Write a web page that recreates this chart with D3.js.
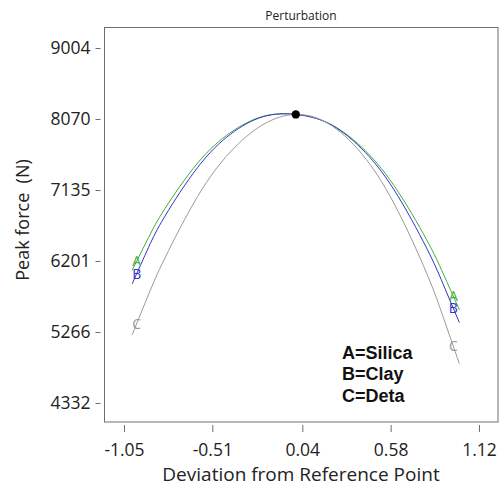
<!DOCTYPE html>
<html>
<head>
<meta charset="utf-8">
<script src="https://cdn.jsdelivr.net/npm/d3@7"></script>
<style>
  html, body { margin: 0; padding: 0; background: #fff; }
  svg { display: block; }
  text { font-family: "Open Sans", "Noto Sans", sans-serif; }
</style>
</head>
<body>
<svg id="chart" width="499" height="487"></svg>
<script>
// ---- data ----
const deviation = [-1, -0.9, -0.8, -0.6, -0.4, -0.2, 0, 0.2, 0.4, 0.6, 0.8, 0.9, 1];
const seriesA = [6080, 6510, 6890, 7490, 7890, 8104, 8130, 8015, 7705, 7195, 6480, 6040, 5560];
const seriesB = [5900, 6380, 6790, 7432, 7868, 8100, 8130, 8012, 7685, 7140, 6370, 5900, 5390];
const seriesC = [5230, 5760, 6240, 7050, 7636, 7996, 8130, 8008, 7620, 6960, 6040, 5470, 4850];
const seriesNames = ["A", "B", "C"];
const legendLines = ["A=Silica", "B=Clay", "C=Deta"];
const referencePoint = [0, 8130];
const xTickValues = [-1.05, -0.51, 0.04, 0.58, 1.12];
const xTickLabels = ["-1.05", "-0.51", "0.04", "0.58", "1.12"];
const yTickValues = [4332, 5266, 6201, 7135, 8070, 9004];
const yTickLabels = ["4332", "5266", "6201", "7135", "8070", "9004"];

const colors = { A: "#3fae3f", B: "#3434c8", C: "#9a9a9a" };

const svg = d3.select("#chart");
const frame = { left: 104.5, top: 27.5, right: 498, bottom: 422 };

const x = d3.scaleLinear().domain([-1.05, 1.12]).range([124, 479]);
const y = d3.scaleLinear().domain([4332, 9004]).range([403, 48]);

// title
svg.append("text")
  .attr("x", 301).attr("y", 20)
  .attr("text-anchor", "middle")
  .attr("font-size", 12)
  .attr("fill", "#222")
  .text("Perturbation");

// frame
svg.append("rect")
  .attr("x", frame.left).attr("y", frame.top)
  .attr("width", frame.right - frame.left)
  .attr("height", frame.bottom - frame.top)
  .attr("fill", "none")
  .attr("stroke", "#6e6e6e")
  .attr("stroke-width", 1);

// y axis
const yAxis = d3.axisLeft(y)
  .tickValues(yTickValues)
  .tickFormat((d, i) => yTickLabels[i])
  .tickSize(5)
  .tickPadding(5);
const gy = svg.append("g").attr("transform", "translate(100.5,0)").call(yAxis);
gy.select(".domain").remove();
gy.selectAll(".tick line").attr("stroke", "#6e6e6e");
gy.selectAll(".tick text")
  .attr("font-size", 17.5)
  .attr("fill", "#222")
  .style("font-family", '"Open Sans", sans-serif');

// x axis
const xAxis = d3.axisBottom(x)
  .tickValues(xTickValues)
  .tickFormat((d, i) => xTickLabels[i])
  .tickSize(7)
  .tickPadding(12);
const gx = svg.append("g").attr("transform", "translate(0,425)").call(xAxis);
gx.select(".domain").remove();
gx.selectAll(".tick line").attr("stroke", "#6e6e6e");
gx.selectAll(".tick text")
  .attr("font-size", 17.5)
  .attr("fill", "#222")
  .style("font-family", '"Open Sans", sans-serif');

// axis titles
svg.append("text")
  .attr("x", 301).attr("y", 481)
  .attr("text-anchor", "middle")
  .attr("font-size", 19)
  .attr("fill", "#222")
  .text("Deviation from Reference Point");

svg.append("text")
  .attr("transform", "translate(29,220) rotate(-90)")
  .attr("text-anchor", "middle")
  .attr("font-size", 18)
  .attr("fill", "#222")
  .style("white-space", "pre")
  .text("Peak force  (N)");

// curves
const line = d3.line()
  .x((d, i) => x(deviation[i]))
  .y(d => y(d))
  .curve(d3.curveNatural);

const allSeries = [seriesA, seriesB, seriesC];
const paths = allSeries.map((s, k) =>
  svg.append("path")
    .datum(s)
    .attr("d", line)
    .attr("fill", "none")
    .attr("stroke", colors[seriesNames[k]])
    .attr("stroke-width", 1)
);

// find point on a path at a given pixel x
function pointAtX(pathNode, px, fromStart) {
  const L = pathNode.getTotalLength();
  let lo, hi;
  if (fromStart) { lo = 0; hi = L / 2; } else { lo = L / 2; hi = L; }
  for (let it = 0; it < 40; it++) {
    const mid = (lo + hi) / 2;
    const p = pathNode.getPointAtLength(mid);
    if (fromStart) { if (p.x < px) lo = mid; else hi = mid; }
    else { if (p.x > px) hi = mid; else lo = mid; }
  }
  return pathNode.getPointAtLength((lo + hi) / 2);
}

// curve labels near both ends
paths.forEach((p, k) => {
  const node = p.node();
  const leftX = x(deviation[0]) + 4.5;
  const rightX = x(deviation[deviation.length - 1]) - 6;
  const pl = pointAtX(node, leftX, true);
  const pr = pointAtX(node, rightX, false);
  [pl, pr].forEach(pt => {
    svg.append("text")
      .attr("x", pt.x).attr("y", pt.y)
      .attr("dy", "0.36em")
      .attr("text-anchor", "middle")
      .attr("font-size", 14)
      .attr("fill", colors[seriesNames[k]])
      .text(seriesNames[k]);
  });
});

// reference point
svg.append("circle")
  .attr("cx", x(referencePoint[0]))
  .attr("cy", y(referencePoint[1]))
  .attr("r", 4.2)
  .attr("fill", "#000");

// legend text
svg.append("g")
  .selectAll("text")
  .data(legendLines)
  .join("text")
  .attr("x", 342)
  .attr("y", (d, i) => 359 + i * 21.3)
  .attr("font-size", 18)
  .attr("font-weight", "bold")
  .attr("fill", "#111")
  .style("font-family", '"Liberation Sans", Arial, sans-serif')
  .text(d => d);
</script>
</body>
</html>
